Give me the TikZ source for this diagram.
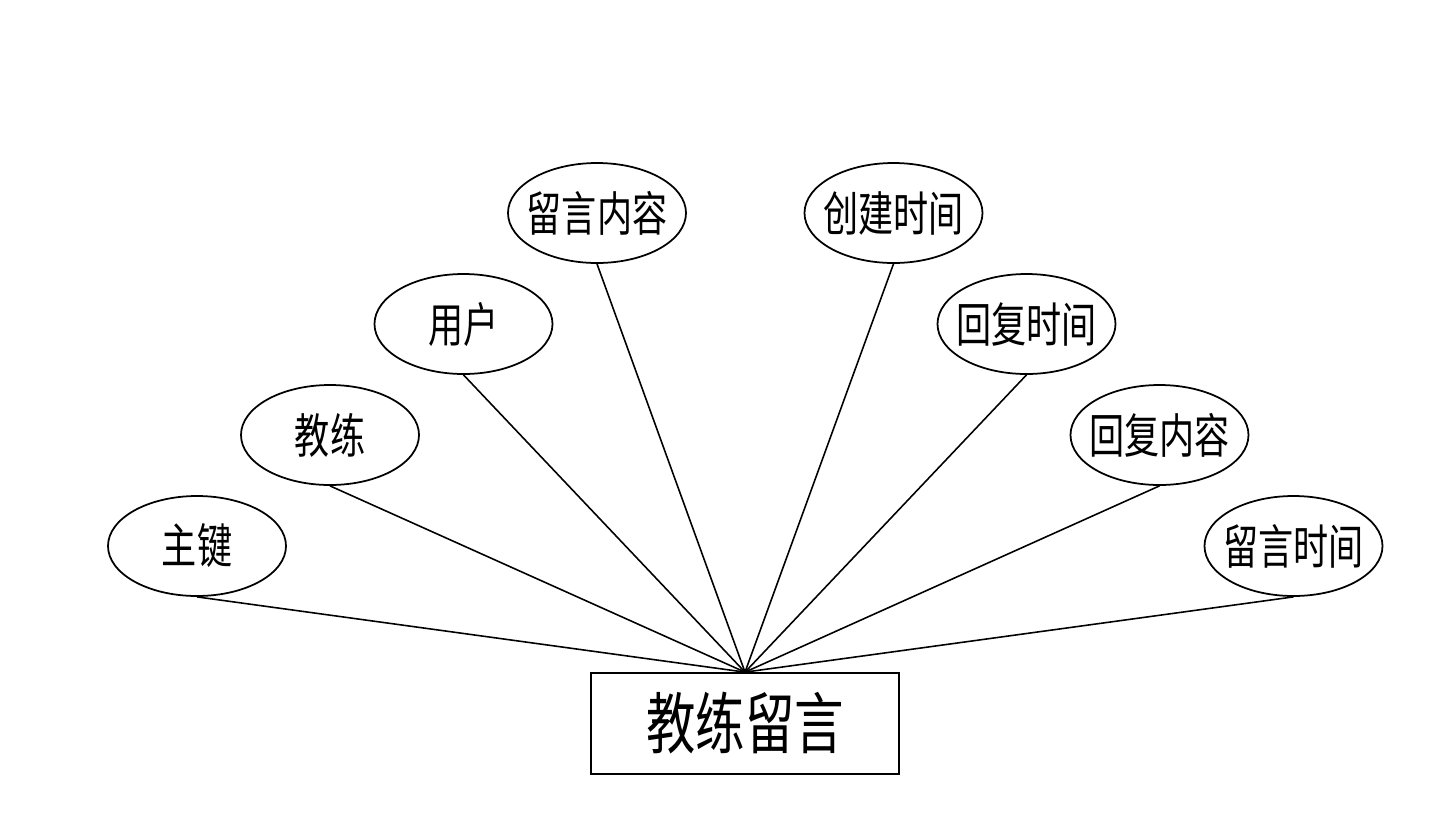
\documentclass[tikz,border=0pt]{standalone}
\usepackage{fontspec}
\newfontfamily\cjk[FakeStretch=0.74]{Noto Sans CJK SC}
\usepackage{tikz}
\usetikzlibrary{positioning,shapes.geometric}

\begin{document}
\begin{tikzpicture}[
    attr/.style={ellipse, draw, line width=0.5pt, minimum width=1.78cm, minimum height=1.0cm, inner xsep=-3pt, inner ysep=0pt, font=\cjk\fontsize{13.5}{14}\selectfont},
    entity/.style={rectangle, draw, line width=0.5pt, minimum width=3.08cm, minimum height=1.01cm, inner sep=0pt, font=\cjk\fontsize{19}{20}\selectfont},
    link/.style={line width=0.45pt}
]
\useasboundingbox (0,0) rectangle (14.4,8.3);
\node[entity] (msg) at (7.45,1.065) {教练留言};

\node[attr] (key) at (1.97,2.84) {主键};
\node[attr] (coach) at (3.30,3.95) {教练};
\node[attr] (user) at (4.635,5.06) {用户};
\node[attr] (content) at (5.97,6.17) {留言内容};
\node[attr] (created) at (8.935,6.17) {创建时间};
\node[attr] (replytime) at (10.265,5.06) {回复时间};
\node[attr] (reply) at (11.595,3.95) {回复内容};
\node[attr] (msgtime) at (12.935,2.84) {留言时间};

\draw[link] (key.south) -- (msg.north);
\draw[link] (coach.south) -- (msg.north);
\draw[link] (user.south) -- (msg.north);
\draw[link] (content.south) -- (msg.north);
\draw[link] (created.south) -- (msg.north);
\draw[link] (replytime.south) -- (msg.north);
\draw[link] (reply.south) -- (msg.north);
\draw[link] (msgtime.south) -- (msg.north);
\end{tikzpicture}
\end{document}
